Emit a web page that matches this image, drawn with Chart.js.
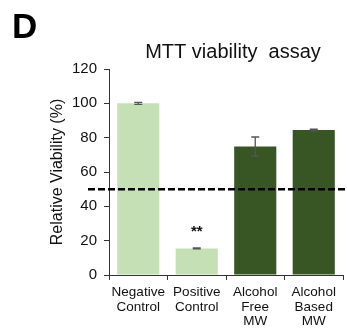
<!DOCTYPE html>
<html>
<head>
<meta charset="utf-8">
<script src="https://cdn.jsdelivr.net/npm/chart.js@4"></script>
<style>
html,body{margin:0;padding:0;background:#fff;}
#wrap{width:347px;height:329px;}
</style>
</head>
<body>
<div id="wrap"><canvas id="c" width="347" height="329"></canvas></div>
<script>
const categories = [["Negative","Control"],["Positive","Control"],["Alcohol","Free","MW"],["Alcohol","Based","MW"]];
const values = [100, 15.5, 74.8, 84.4];
const errors = [0.6, 0.3, 5.6, 0.5];
const barColors = ["#c5e0b4", "#c5e0b4", "#385623", "#385623"];
const thresholdValue = 50;
const significance = ["", "**", "", ""];
const yTicks = [0, 20, 40, 60, 80, 100, 120];

const FONT = "'Liberation Sans', Arial, sans-serif";

const overlay = {
  id: 'overlay',
  afterDatasetsDraw(chart) {
    const ctx = chart.ctx;
    const y = chart.scales.y;
    const meta = chart.getDatasetMeta(0);
    ctx.save();
    // error bars
    ctx.strokeStyle = '#555';
    ctx.lineWidth = 1.3;
    meta.data.forEach((bar, i) => {
      const top = y.getPixelForValue(values[i] + errors[i]);
      const bot = y.getPixelForValue(values[i] - errors[i]);
      ctx.beginPath();
      ctx.moveTo(bar.x, top); ctx.lineTo(bar.x, bot);
      ctx.moveTo(bar.x - 4, top); ctx.lineTo(bar.x + 4, top);
      ctx.moveTo(bar.x - 4, bot); ctx.lineTo(bar.x + 4, bot);
      ctx.stroke();
    });
    // significance
    ctx.fillStyle = '#111';
    ctx.font = 'bold 15px ' + FONT;
    ctx.textAlign = 'center';
    ctx.textBaseline = 'middle';
    meta.data.forEach((bar, i) => {
      if (significance[i]) {
        ctx.fillText(significance[i], bar.x, y.getPixelForValue(values[i] + errors[i]) - 16);
      }
    });
    // threshold dashed line
    const ty = y.getPixelForValue(thresholdValue);
    ctx.strokeStyle = '#000';
    ctx.lineWidth = 2.5;
    ctx.setLineDash([7, 3]);
    ctx.beginPath();
    ctx.moveTo(88, ty); ctx.lineTo(347, ty);
    ctx.stroke();
    ctx.setLineDash([]);
    // panel letter and title
    ctx.fillStyle = '#000';
    ctx.textAlign = 'left';
    ctx.textBaseline = 'alphabetic';
    ctx.font = 'bold 35px ' + FONT;
    ctx.fillText('D', 12, 38);
    ctx.fillStyle = '#111';
    ctx.textAlign = 'center';
    ctx.font = '20px ' + FONT;
    ctx.fillText('MTT viability  assay', 233, 58);
    ctx.restore();
  }
};

new Chart(document.getElementById('c'), {
  type: 'bar',
  data: {
    labels: categories,
    datasets: [{
      data: values,
      backgroundColor: barColors,
      borderWidth: 0,
      categoryPercentage: 1.0,
      barPercentage: 0.72
    }]
  },
  options: {
    responsive: false,
    animation: false,
    devicePixelRatio: 1,
    layout: { padding: { left: 0, right: 4, top: 69, bottom: 0 } },
    plugins: { legend: { display: false }, tooltip: { enabled: false }, title: { display: false } },
    scales: {
      x: {
        grid: { drawOnChartArea: false, drawTicks: true, tickLength: 5, color: '#333', offset: true },
        border: { color: '#333', width: 1 },
        ticks: { color: '#111', font: { family: FONT, size: 13.5, lineHeight: 1.08 }, padding: 5, maxRotation: 0, autoSkip: false },
        afterFit(s) { s.height = 54; }
      },
      y: {
        min: 0, max: 120,
        afterBuildTicks(s) {
          const t = [];
          for (let v = 0; v <= 120; v += 10) t.push({ value: v });
          s.ticks = t;
        },
        ticks: {
          color: '#111',
          font: { family: FONT, size: 15 },
          padding: 7,
          callback: (v) => yTicks.includes(v) ? String(v) : ''
        },
        grid: { drawOnChartArea: false, drawTicks: true, tickLength: 5, color: '#333' },
        border: { color: '#333', width: 1 },
        title: { display: true, text: 'Relative Viability (%)', color: '#111', font: { family: FONT, size: 16 }, padding: { top: 48, bottom: 0 } },
        afterFit(s) { s.width = 109; }
      }
    }
  },
  plugins: [overlay]
});
</script>
</body>
</html>
